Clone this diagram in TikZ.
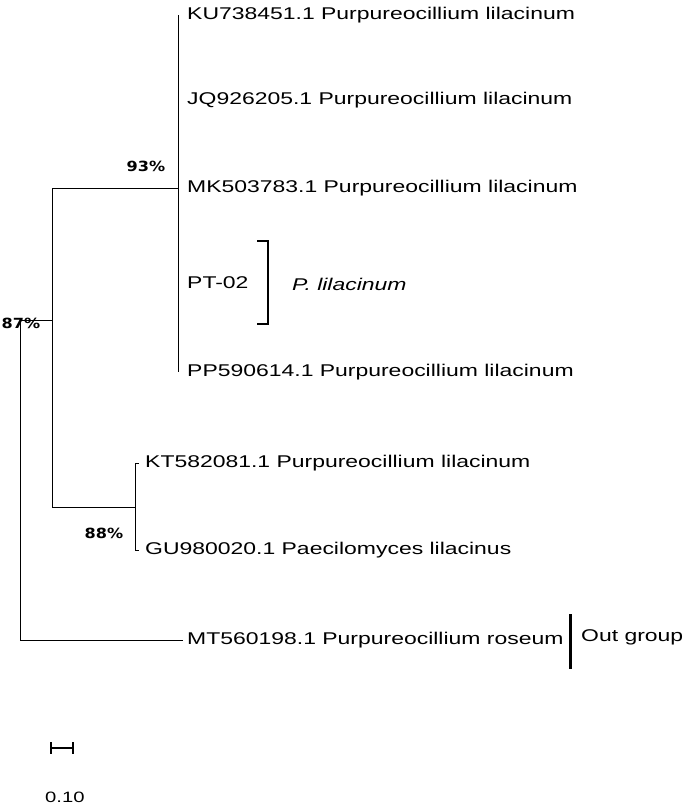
\documentclass[tikz,border=0pt]{standalone}
\usepackage{fontspec}
\setmainfont{Liberation Sans}
\newfontfamily\wide[FakeStretch=1.35]{Liberation Sans}
\newfontfamily\bootf[FakeStretch=1.15]{DejaVu Sans}
\begin{document}
\begin{tikzpicture}[x=1pt,y=-1pt,
  br/.style={line width=0.6pt},
  tip/.style={anchor=west,font=\wide\fontsize{17}{19}\selectfont,inner sep=0pt},
  boot/.style={font=\bootf\bfseries\fontsize{14}{16}\selectfont,inner sep=0pt}]
\useasboundingbox (0,0) rectangle (685,804);
\coordinate (r) at (20,320);
\coordinate (a) at (52,320);
\coordinate (b) at (178,188);
\coordinate (c) at (135,507);
% tips
\node[tip] (t1) at (187,15) {KU738451.1 Purpureocillium lilacinum};
\node[tip] (t2) at (187,100) {JQ926205.1 Purpureocillium lilacinum};
\node[tip] (t3) at (187,188) {MK503783.1 Purpureocillium lilacinum};
\node[tip] (t4) at (187,283) {PT-02};
\node[tip] (t5) at (187,372) {PP590614.1 Purpureocillium lilacinum};
\node[tip] (t6) at (145,463) {KT582081.1 Purpureocillium lilacinum};
\node[tip] (t7) at (145,550) {GU980020.1 Paecilomyces lilacinus};
\node[tip] (t8) at (187,640) {MT560198.1 Purpureocillium roseum};
% branches
\draw[br] (20,640) -- (20,320);
\draw[br] (r) -- (a);
\draw[br] (20,640) -- ([xshift=-4pt]t8.west);
\draw[br] (52,188) -- (52,507);
\draw[br] (52,188) -- (b);
\draw[br] (52,507) -- (c);
\draw[br] (178,15) -- (178,372);
\draw[br] (135,463) -- (135,550);
\draw[br] (135,463) -- (139,463);
\draw[br] (135,550) -- (139,550);
% bootstrap
\node[boot] (n87) at (21,323) {87\%};
\node[boot] (n93) at (146,166) {93\%};
\node[boot] (n88) at (104,533) {88\%};
% bracket
\draw[line width=2.5pt] (257,241) -- (268,241) -- (268,324) -- (257,324);
\node[tip,font=\wide\itshape\fontsize{17}{19}\selectfont] (pl) at (292,284) {P. lilacinum};
\draw[line width=3pt] (570,614) -- (570,669);
\node[tip] (og) at (581,637) {Out group};
% scale
\draw[line width=1.5pt] (51,748) -- (73,748);
\draw[line width=1.5pt] (51,742) -- (51,754);
\draw[line width=1.5pt] (73,742) -- (73,754);
\node[tip,font=\wide\fontsize{15}{17}\selectfont] (sc) at (45,797) {0.10};
\end{tikzpicture}
\end{document}
